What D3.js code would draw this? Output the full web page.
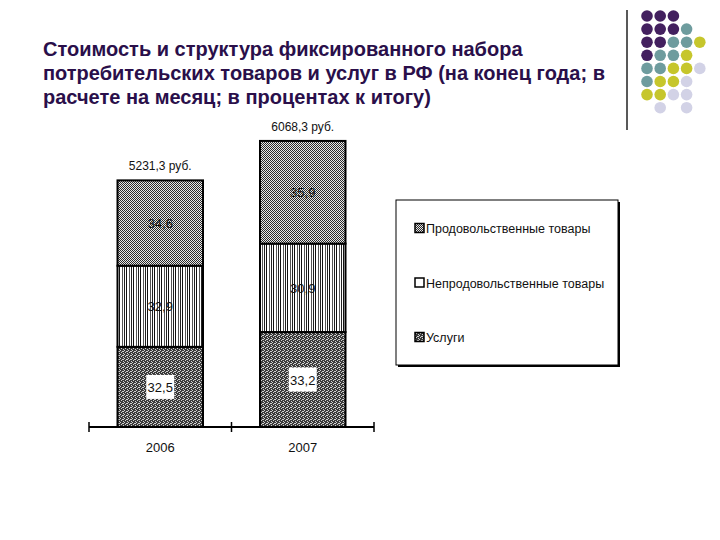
<!DOCTYPE html>
<html><head><meta charset="utf-8">
<script src="https://cdn.jsdelivr.net/npm/d3@7"></script>
<style>body{margin:0;background:#fff}svg{display:block}</style>
</head><body>
<svg id="c" width="720" height="540"></svg>
<script>
const titleLines = ["Стоимость и структура фиксированного набора","потребительских товаров и услуг в РФ (на конец года; в","расчете на месяц; в процентах к итогу)"];
const years = ["2006","2007"];
const totals = [5231.3, 6068.3];
const totalLabels = ["5231,3 руб.","6068,3 руб."];
const seriesNames = ["Услуги","Непродовольственные товары","Продовольственные товары"];
const services = [32.5, 33.2];
const nonFood = [32.9, 30.9];
const food = [34.6, 35.9];
const legendNames = ["Продовольственные товары","Непродовольственные товары","Услуги"];
const dotColors = {p:"#43205f",t:"#6e9c9e",y:"#c6c62c",l:"#d2d2e6"};
const dotGrid = ["ppp..","pppt.","pptty","ptty.","ttyyl","tyyl.","yyll.",".l.l."];

const svg = d3.select("#c");
const defs = svg.append("defs");
// patterns
const pf = defs.append("pattern").attr("id","pFood").attr("patternUnits","userSpaceOnUse").attr("width",2).attr("height",2);
pf.append("rect").attr("width",2).attr("height",2).attr("fill","#e8e8e8");
pf.append("path").attr("d","M0,0h1v1h-1zM1,1h1v1h-1z").attr("fill","#2a2a2a");
const pn = defs.append("pattern").attr("id","pNon").attr("patternUnits","userSpaceOnUse").attr("width",7).attr("height",4);
pn.append("rect").attr("width",7).attr("height",4).attr("fill","#fff");
pn.append("rect").attr("x",0).attr("width",1).attr("height",4).attr("fill","#111");
pn.append("rect").attr("x",3).attr("width",1).attr("height",4).attr("fill","#555");
pn.append("rect").attr("x",5).attr("width",1).attr("height",4).attr("fill","#222");
const ps = defs.append("pattern").attr("id","pSvc").attr("patternUnits","userSpaceOnUse").attr("width",4).attr("height",4);
ps.append("rect").attr("width",4).attr("height",4).attr("fill","#3a3a3a");
ps.append("path").attr("d","M1,0h1v1h-1zM3,1h1v1h-1zM0,2h1v1h-1zM2,3h1v1h-1zM3,3h1v1h-1z").attr("fill","#d0d0d0");
const fills = {"Услуги":"url(#pSvc)","Непродовольственные товары":"url(#pNon)","Продовольственные товары":"url(#pFood)"};

// title
svg.append("g").selectAll("text").data(titleLines).join("text")
  .attr("x",43).attr("y",(d,i)=>56+i*24)
  .attr("font-family","Liberation Sans, Arial, sans-serif").attr("font-weight","bold").attr("font-size",20)
  .attr("fill","#2a0f4a").text(d=>d);

// decoration
svg.append("line").attr("x1",627).attr("x2",627).attr("y1",10).attr("y2",130).attr("stroke","#222").attr("stroke-width",1.5);
const dots=[];
dotGrid.forEach((row,r)=>row.split("").forEach((c,k)=>{ if(c!==".") dots.push({r,k,c}); }));
svg.append("g").selectAll("circle").data(dots).join("circle")
  .attr("cx",d=>647+d.k*13.2).attr("cy",d=>16+d.r*13.1).attr("r",5.8).attr("fill",d=>dotColors[d.c]);

// chart
const x = d3.scaleBand().domain(years).range([89,374]).paddingInner(0.4).paddingOuter(0.2);
const y = d3.scaleLinear().domain([0,7000]).range([427,97]);
const rows = years.map((yr,i)=>({year:yr,total:totals[i],"Услуги":services[i],"Непродовольственные товары":nonFood[i],"Продовольственные товары":food[i]}));
const stack = d3.stack().keys(seriesNames).value((d,key)=>d[key]*d.total/100);
const layers = stack(rows);
const g = svg.append("g");
layers.forEach(layer=>{
  g.append("g").selectAll("rect").data(layer).join("rect")
    .attr("x",d=>x(d.data.year)).attr("width",x.bandwidth())
    .attr("y",d=>y(d[1])).attr("height",d=>y(d[0])-y(d[1]))
    .attr("fill",fills[layer.key]).attr("stroke","#000").attr("stroke-width",2);
});
// value labels
layers.forEach(layer=>{
  const lg = g.append("g");
  layer.forEach(d=>{
    const cx = x(d.data.year)+x.bandwidth()/2, cy=(y(d[0])+y(d[1]))/2;
    const label = String(d.data[layer.key]).replace(".",",");
    if(layer.key==="Услуги"){
      lg.append("rect").attr("x",cx-14).attr("y",cy-12).attr("width",28).attr("height",24).attr("fill","#fff");
    }
    lg.append("text").attr("x",cx).attr("y",cy+5).attr("text-anchor","middle")
      .attr("font-family","Liberation Sans, Arial, sans-serif").attr("font-size",13).attr("fill","#111").text(label);
  });
});
// totals
g.append("g").selectAll("text").data(rows).join("text")
  .attr("x",d=>x(d.year)+x.bandwidth()/2).attr("y",d=>y(d.total)-10).attr("text-anchor","middle")
  .attr("font-family","Liberation Sans, Arial, sans-serif").attr("font-size",12).attr("fill","#111")
  .text((d,i)=>totalLabels[i]);
// axis
const ax = svg.append("g").attr("transform","translate(0,427)");
ax.append("line").attr("x1",89).attr("x2",374).attr("stroke","#000").attr("stroke-width",2);
const tickX = [89, (89+374)/2, 374];
ax.selectAll("line.t").data(tickX).join("line").attr("class","t").attr("x1",d=>d).attr("x2",d=>d).attr("y1",-5).attr("y2",5).attr("stroke","#000").attr("stroke-width",1.5);
ax.selectAll("text").data(years).join("text").attr("x",d=>x(d)+x.bandwidth()/2).attr("y",25).attr("text-anchor","middle")
  .attr("font-family","Liberation Sans, Arial, sans-serif").attr("font-size",13).attr("fill","#111").text(d=>d);

// legend
const lgd = svg.append("g");
lgd.append("rect").attr("x",398).attr("y",202).attr("width",222).attr("height",165).attr("fill","#000");
lgd.append("rect").attr("x",396).attr("y",200).attr("width",222).attr("height",165).attr("fill","#fff").attr("stroke","#000").attr("stroke-width",1);
const legFill = {"Продовольственные товары":"url(#pFood)","Непродовольственные товары":"#fff","Услуги":"url(#pSvc)"};
const li = lgd.selectAll("g.i").data(legendNames).join("g").attr("class","i").attr("transform",(d,i)=>`translate(415,${228+i*54.5})`);
li.append("rect").attr("x",0).attr("y",-4.5).attr("width",9).attr("height",9).attr("fill",d=>legFill[d]).attr("stroke","#000").attr("stroke-width",1.5);
li.append("text").attr("x",11).attr("y",5).attr("font-family","Liberation Sans, Arial, sans-serif").attr("font-size",12.5).attr("fill","#111").text(d=>d);
</script>
</body></html>
